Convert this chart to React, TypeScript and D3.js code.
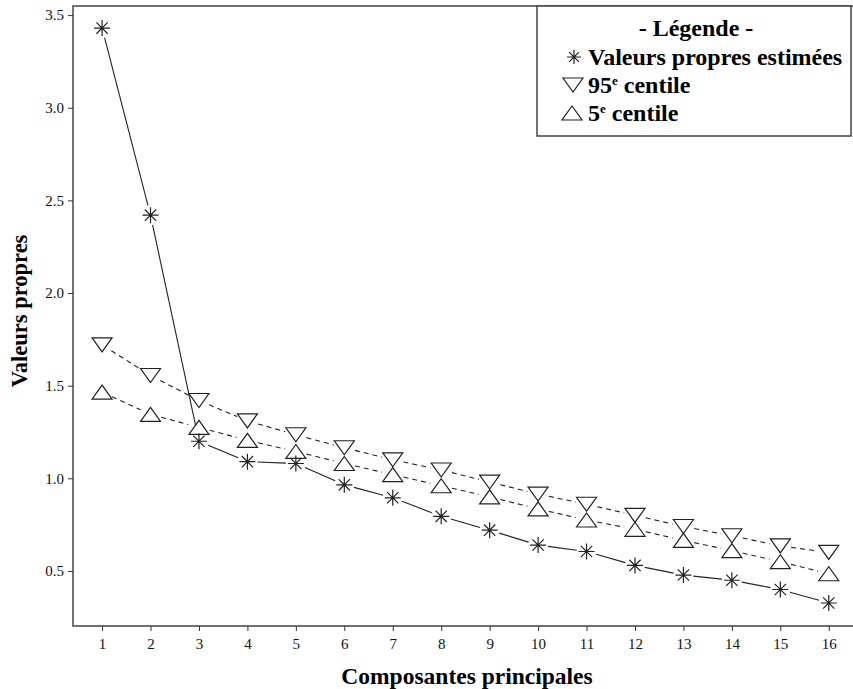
import React, { useEffect, useRef } from "react";
import * as d3 from "d3";

const components = [1, 2, 3, 4, 5, 6, 7, 8, 9, 10, 11, 12, 13, 14, 15, 16];
const eigenValues = [3.43, 2.42, 1.2, 1.09, 1.08, 0.965, 0.895, 0.795, 0.72, 0.64, 0.605, 0.53, 0.478, 0.45, 0.4, 0.327];
const centile95 = [1.72, 1.555, 1.42, 1.31, 1.235, 1.165, 1.1, 1.045, 0.98, 0.915, 0.86, 0.8, 0.74, 0.69, 0.635, 0.6];
const centile5 = [1.465, 1.345, 1.275, 1.205, 1.145, 1.08, 1.02, 0.96, 0.9, 0.835, 0.775, 0.725, 0.665, 0.61, 0.55, 0.485];
const yTicks = [0.5, 1.0, 1.5, 2.0, 2.5, 3.0, 3.5];

const width = 853;
const height = 689;
const left = 73;
const top = 6;
const bottom = 626;
const right = 853;
const font = "'Liberation Serif', 'Times New Roman', serif";

const App: React.FC = () => {
  const svgRef = useRef<SVGSVGElement>(null);

  useEffect(() => {
    const x = d3.scaleLinear().domain([0.4, 16.5]).range([left, right]);
    const y = d3.scaleLinear().domain([0.203, 3.549]).range([bottom, top]);

    const svg = d3.select(svgRef.current);
    svg.selectAll("*").remove();

    // frame: left, bottom, top
    svg.append("path")
      .attr("d", `M${right},${top}H${left}V${bottom}H${right}`)
      .attr("fill", "none")
      .attr("stroke", "#444")
      .attr("stroke-width", 1.5);

    // y axis
    const yAxis = svg.append("g")
      .attr("transform", `translate(${left},0)`)
      .call(d3.axisLeft(y).tickValues(yTicks).tickFormat(d3.format(".1f")).tickSize(5).tickPadding(4));
    yAxis.select(".domain").remove();
    yAxis.selectAll("text").attr("font-family", font).attr("font-size", 15).attr("fill", "#111");
    yAxis.selectAll("line").attr("stroke", "#333");

    const xAxis = svg.append("g")
      .attr("transform", `translate(0,${bottom})`)
      .call(d3.axisBottom(x).tickValues(components).tickFormat(d3.format("d")).tickSize(5).tickPadding(7));
    xAxis.select(".domain").remove();
    xAxis.selectAll("text").attr("font-family", font).attr("font-size", 15).attr("fill", "#111");
    xAxis.selectAll("line").attr("stroke", "#333");

    // lines with gaps around markers
    const drawLine = (vals: number[], gap: number, dash: string | null) => {
      for (let i = 0; i < vals.length - 1; i++) {
        const x1 = x(components[i]), y1 = y(vals[i]);
        const x2 = x(components[i + 1]), y2 = y(vals[i + 1]);
        const len = Math.hypot(x2 - x1, y2 - y1);
        if (len <= gap * 2) continue;
        const ux = (x2 - x1) / len, uy = (y2 - y1) / len;
        svg.append("line")
          .attr("x1", x1 + ux * gap).attr("y1", y1 + uy * gap)
          .attr("x2", x2 - ux * gap).attr("y2", y2 - uy * gap)
          .attr("stroke", "#222")
          .attr("stroke-width", 1.1)
          .attr("stroke-dasharray", dash);
      }
    };
    drawLine(eigenValues, 10, null);
    drawLine(centile95, 11, "5,4");
    drawLine(centile5, 11, "5,4");

    const star = (g: d3.Selection<any, any, any, any>, cx: number, cy: number, r: number) => {
      const d = [0, 45, 90, 135].map((a) => {
        const rad = (a * Math.PI) / 180;
        const dx = Math.cos(rad) * r, dy = Math.sin(rad) * r;
        return `M${cx - dx},${cy - dy}L${cx + dx},${cy + dy}`;
      }).join("");
      g.append("path").attr("d", d).attr("stroke", "#222").attr("stroke-width", 1.2).attr("fill", "none");
    };
    const tri = (g: d3.Selection<any, any, any, any>, cx: number, cy: number, down: boolean) => {
      const w = 10, h = 7;
      const d = down
        ? `M${cx - w},${cy - h}L${cx + w},${cy - h}L${cx},${cy + h}Z`
        : `M${cx - w},${cy + h}L${cx + w},${cy + h}L${cx},${cy - h}Z`;
      g.append("path").attr("d", d).attr("stroke", "#222").attr("stroke-width", 1.2).attr("fill", "white");
    };

    const marks = svg.append("g");
    centile95.forEach((v, i) => tri(marks, x(components[i]), y(v), true));
    centile5.forEach((v, i) => tri(marks, x(components[i]), y(v), false));
    eigenValues.forEach((v, i) => star(marks, x(components[i]), y(v), 8));

    // legend
    const lg = svg.append("g");
    lg.append("rect")
      .attr("x", 537).attr("y", top).attr("width", 314).attr("height", 130)
      .attr("fill", "white").attr("stroke", "#444").attr("stroke-width", 1.5);
    lg.append("text").attr("x", 696).attr("y", 36).attr("text-anchor", "middle")
      .attr("font-family", font).attr("font-size", 24).attr("font-weight", "bold").text("- Légende -");
    star(lg, 574, 57, 7);
    tri(lg, 573, 85, true);
    tri(lg, 572, 113, false);
    const item = (yy: number, main: string, sup: string | null, rest: string) => {
      const t = lg.append("text").attr("x", 588).attr("y", yy)
        .attr("font-family", font).attr("font-size", 24).attr("font-weight", "bold");
      t.append("tspan").text(main);
      if (sup) t.append("tspan").attr("font-size", 13).attr("dy", -8).text(sup);
      t.append("tspan").attr("dy", sup ? 8 : 0).text(rest);
    };
    item(65, "Valeurs propres estimées", null, "");
    item(93, "95", "e", " centile");
    item(121, "5", "e", " centile");

    // axis titles
    svg.append("text")
      .attr("transform", `translate(27,311) rotate(-90)`)
      .attr("text-anchor", "middle")
      .attr("font-family", font).attr("font-size", 22.5).attr("font-weight", "bold")
      .text("Valeurs propres");
    svg.append("text")
      .attr("x", 467).attr("y", 684).attr("text-anchor", "middle")
      .attr("font-family", font).attr("font-size", 23.5).attr("font-weight", "bold")
      .text("Composantes principales");
  }, []);

  return (
    <svg
      ref={svgRef}
      width={width}
      height={height}
      viewBox={`0 0 ${width} ${height}`}
      style={{ position: "absolute", left: 0, top: 0, background: "white" }}
    ></svg>
  );
};

export default App;
